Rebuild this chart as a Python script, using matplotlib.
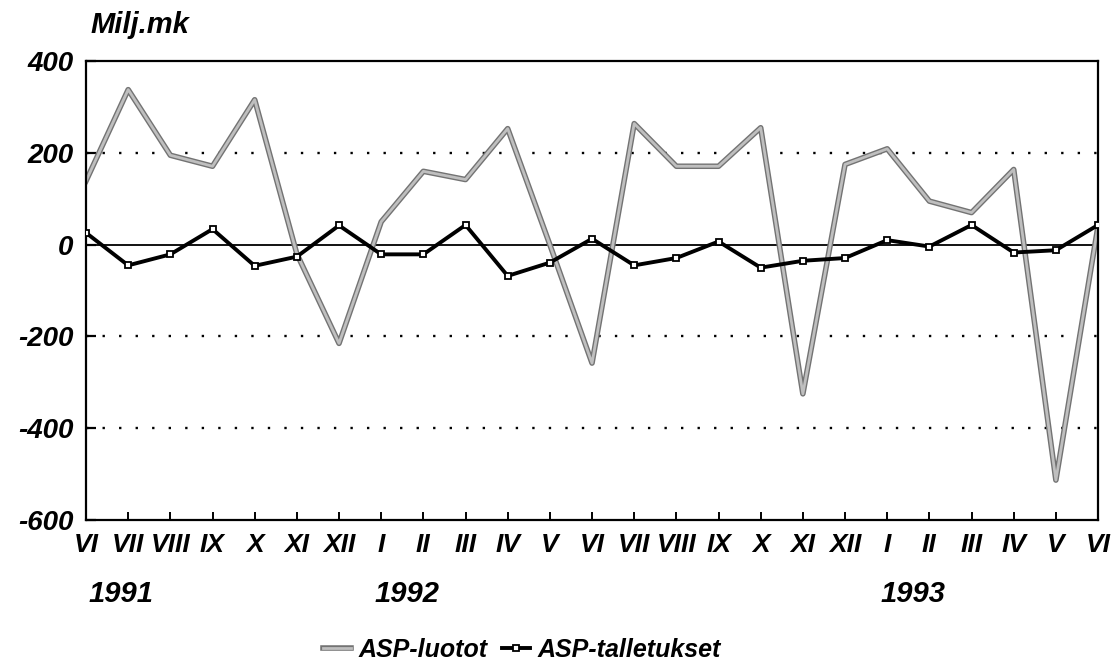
import numpy as np
import matplotlib.pyplot as plt
import matplotlib.patheffects as pe

plt.rcParams['font.family'] = ['Liberation Sans', 'DejaVu Sans']

# months VI/1991 .. VI/1993
months = ['VI', 'VII', 'VIII', 'IX', 'X', 'XI', 'XII',
          'I', 'II', 'III', 'IV', 'V', 'VI', 'VII', 'VIII', 'IX', 'X', 'XI', 'XII',
          'I', 'II', 'III', 'IV', 'V', 'VI']
years = ['1991', '1992', '1993']
year_start = [0, 7, 19]

luotot = [139, 338, 195, 171, 316, -20, -215, 50, 160, 142, 253, 0, -258,
          264, 171, 171, 255, -325, 175, 209, 95, 70, 164, -513, 41]
talletukset = [26, -45, -21, 34, -46, -26, 42, -21, -21, 43, -68, -39, 13,
               -45, -29, 7, -50, -35, -29, 10, -4, 43, -17, -12, 43]

yticks = [-600, -400, -200, 0, 200, 400]

fig = plt.figure(figsize=(11.2, 6.65), dpi=100)
ax = fig.add_axes([0.0768, 0.218, 0.9036, 0.690])

x = np.arange(len(months))

# grid lines and zero line
for v in [200, -200, -400]:
    ax.axhline(v, color='black', lw=1.7, linestyle=(0, (1, 6)), zorder=1)
ax.axhline(0, color='black', lw=1.3, zorder=1)

# dithered grey line in the original: light core with a darker rim
ax.plot(x, luotot, color='0.75', lw=2.0, zorder=2, label='ASP-luotot',
        path_effects=[pe.Stroke(linewidth=4.0, foreground='0.45'), pe.Normal()])
ax.plot(x, talletukset, color='black', lw=2.8, marker='s', markersize=5,
        markerfacecolor='white', markeredgecolor='black', markeredgewidth=1.3,
        zorder=3, label='ASP-talletukset')

ax.set_xlim(0, len(months) - 1)
ax.set_ylim(-600, 400)
ax.set_yticks(yticks)
ax.set_yticklabels([str(v) for v in yticks])
ax.set_xticks(x)
ax.set_xticklabels(months)

for s in ax.spines.values():
    s.set_linewidth(1.6)

ax.tick_params(axis='y', direction='in', length=7, width=1.6, pad=9,
               labelsize=20)
ax.tick_params(axis='x', direction='in', length=6, width=1.4, pad=9,
               labelsize=19)
for lab in ax.get_xticklabels() + ax.get_yticklabels():
    lab.set_fontweight('bold')
    lab.set_fontstyle('italic')

for yr, i in zip(years, year_start):
    ax.text(i + 0.05 if i == 0 else i - 0.15, -0.161, yr,
            transform=ax.get_xaxis_transform(), ha='left', va='center',
            fontsize=21, fontweight='bold', fontstyle='italic')

fig.text(90 / 1120, 1 - 25 / 665, 'Milj.mk', ha='left', va='center',
         fontsize=21, fontweight='bold', fontstyle='italic')

leg = fig.legend(loc='center', bbox_to_anchor=(522 / 1120, 1 - 650 / 665),
                 ncol=2, frameon=False, handlelength=1.1, handletextpad=0.3,
                 columnspacing=0.6, borderaxespad=0,
                 prop={'size': 18, 'weight': 'bold', 'style': 'italic'})

fig.savefig('out.png', dpi=100)
